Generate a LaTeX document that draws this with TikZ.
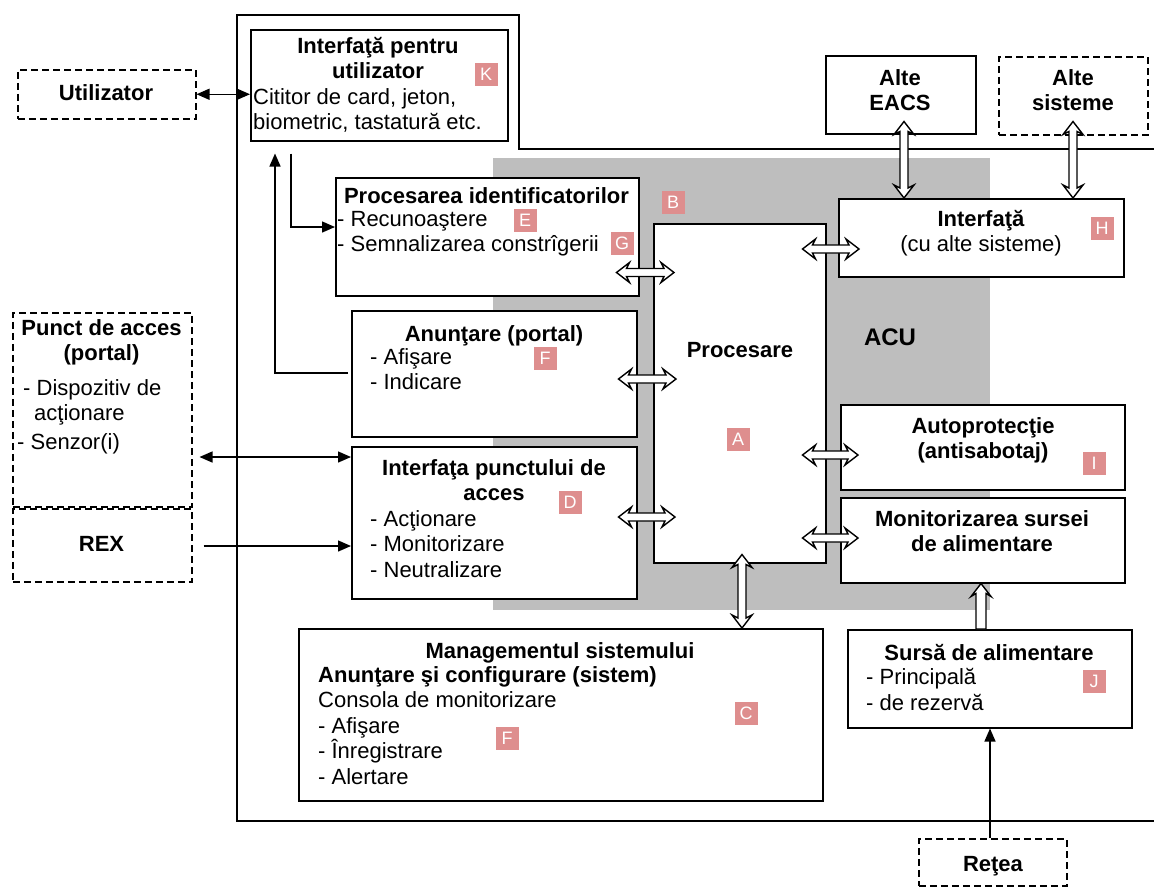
\documentclass[tikz,border=0pt]{standalone}
\usepackage{fontspec}
\setmainfont{Liberation Sans}
\usetikzlibrary{calc,arrows.meta}
\definecolor{acugrey}{RGB}{190,190,190}
\definecolor{badgepink}{RGB}{222,142,142}
\tikzset{
  box/.style={draw, line width=1.5pt, fill=white, rectangle, inner sep=0pt, anchor=north west},
  dbox/.style={box, dash pattern=on 7pt off 4pt},
  sz/.style 2 args={minimum width=#1pt, minimum height=#2pt},
  tr/.style={font=\fontsize{22}{25.6}\selectfont, inner sep=0pt, execute at begin node=\strut},
  tb/.style={font=\fontsize{22}{25.6}\selectfont\bfseries, inner sep=0pt, execute at begin node=\strut},
  ctext/.style={anchor=north, align=center},
  ltext/.style={anchor=north west, align=left},
  badge/.style={fill=badgepink, text=white, font=\fontsize{18}{18}\selectfont, minimum width=23pt, minimum height=23pt, inner sep=0pt},
  conn/.style={draw, line width=1.4pt},
  ctip/.tip={Triangle[length=13pt,width=11pt]},
  hollow/.style={draw, fill=white, line width=1.4pt, line join=miter},
  hdouble/.style={hollow, to path={let \p1=(\tikztostart), \p2=(\tikztotarget) in
    (\x1,\y1) -- ({\x1+13pt},{\y1+10pt}) -- ({\x1+10pt},{\y1+4pt}) -- ({\x2-10pt},{\y1+4pt}) -- ({\x2-13pt},{\y1+10pt}) -- (\x2,\y1) -- ({\x2-13pt},{\y1-10pt}) -- ({\x2-10pt},{\y1-4pt}) -- ({\x1+10pt},{\y1-4pt}) -- ({\x1+13pt},{\y1-10pt}) -- cycle}},
  vdouble/.style={hollow, to path={let \p1=(\tikztostart), \p2=(\tikztotarget) in
    (\x1,\y1) -- ({\x1+10pt},{\y1-13pt}) -- ({\x1+4pt},{\y1-10pt}) -- ({\x1+4pt},{\y2+10pt}) -- ({\x1+10pt},{\y2+13pt}) -- (\x1,\y2) -- ({\x1-10pt},{\y2+13pt}) -- ({\x1-4pt},{\y2+10pt}) -- ({\x1-4pt},{\y1-10pt}) -- ({\x1-10pt},{\y1-13pt}) -- cycle}},
  vsingle/.style={hollow, to path={let \p1=(\tikztostart), \p2=(\tikztotarget) in
    ({\x1-5pt},\y1) -- ({\x1-5pt},{\y2-10pt}) -- ({\x1-10pt},{\y2-13pt}) -- (\x1,\y2) -- ({\x1+10pt},{\y2-13pt}) -- ({\x1+5pt},{\y2-10pt}) -- ({\x1+5pt},\y1) -- cycle}},
}
\begin{document}
\begin{tikzpicture}[x=1pt,y=-1pt]
\useasboundingbox (0,0) rectangle (1154,887);
% outer frame
\draw[line width=1.5pt] (1154,149) -- (519,149) -- (519,15) -- (237,15) -- (237,821) -- (1154,821);
% ACU grey area
\node[fill=acugrey, inner sep=0pt, anchor=north west, sz={497}{452}] (acu) at (493,158) {};
% boxes
\node[dbox, sz={178}{49}] (util) at (17,69) {};
\node[box, sz={257}{111}] (K) at (250,29) {};
\node[box, sz={150}{78}] (EACS) at (825,55) {};
\node[dbox, sz={149}{78}] (altesis) at (998,56) {};
\node[box, sz={285}{78}] (H) at (838,198) {};
\node[box, sz={303}{118}] (E) at (335,177) {};
\node[box, sz={285}{126}] (F) at (351,310) {};
\node[box, sz={285}{152}] (D) at (351,446) {};
\node[box, sz={172}{339}] (A) at (653,223) {};
\node[box, sz={284}{85}] (I) at (840,404) {};
\node[box, sz={284}{85}] (M) at (840,497) {};
\node[box, sz={524}{172}] (C) at (298,628) {};
\node[box, sz={284}{98}] (J) at (847,629) {};
\node[dbox, sz={179}{194}] (punct) at (12,312) {};
\node[dbox, sz={179}{73}] (rex) at (12,508) {};
\node[dbox, sz={148}{47}] (retea) at (918,838) {};
% texts
\node[tb, ctext] (tutil) at (106,82) {Utilizator};
\node[tb, ctext] (tK1) at (378,37) {Interfaţă pentru\\utilizator};
\node[tr, ltext] (tK2) at (253,88) {Cititor de card, jeton,\\biometric, tastatură etc.};
\node[tb, ctext] (tEACS) at (900,69) {Alte\\EACS};
\node[tb, ctext] (talte) at (1073,69) {Alte\\sisteme};
\node[tr, ctext] (tH) at (981,210) {\textbf{Interfaţă}\\(cu alte sisteme)};
\node[tb, ctext] (tE1) at (486.5,185) {Procesarea identificatorilor};
\node[tr, ltext] (tE2) at (337,211) {- Recunoaştere\\- Semnalizarea constrîgerii};
\node[tb, ctext] (tF1) at (494,323) {Anunţare (portal)};
\node[tr, ltext] (tF2) at (370,348) {- Afişare\\- Indicare};
\node[tb, ctext] (tD1) at (494,459) {Interfaţa punctului de\\acces};
\node[tr, ltext] (tD2) at (370,510) {- Acţionare\\- Monitorizare\\- Neutralizare};
\node[tb, ctext] (tP1) at (101.5,319) {Punct de acces\\(portal)};
\node[tr, ltext] (tP2) at (23,379) {- Dispozitiv de\\\hspace*{11pt}acţionare};
\node[tr, ltext] (tP3) at (17,431) {- Senzor(i)};
\node[tb, ctext] (tREX) at (101.5,533) {REX};
\node[tb, ctext] (tproc) at (740,339) {Procesare};
\node[font=\fontsize{24}{27.6}\selectfont\bfseries, inner sep=0pt, execute at begin node=\strut, ctext] (tacu) at (890,326) {ACU};
\node[tb, ctext] (tI) at (983,417) {Autoprotecţie\\(antisabotaj)};
\node[tb, ctext] (tM) at (982,510) {Monitorizarea sursei\\de alimentare};
\node[tb, ctext] (tC1) at (560,640) {Managementul sistemului};
\node[tr, ltext] (tC2) at (318,666) {\textbf{Anunţare şi configurare (sistem)}\\Consola de monitorizare\\- Afişare\\- Înregistrare\\- Alertare};
\node[tb, ctext] (tJ1) at (989,642) {Sursă de alimentare};
\node[tr, ltext] (tJ2) at (866,668) {- Principală\\- de rezervă};
\node[tb, ctext] (tR) at (993,853) {Reţea};
% badges
\node[badge] (bK) at (486,74) {K};
\node[badge] (bE) at (525,220) {E};
\node[badge] (bG) at (622,243) {G};
\node[badge] (bB) at (673,202) {B};
\node[badge] (bF) at (545,358) {F};
\node[badge] (bD) at (570,502) {D};
\node[badge] (bA) at (738,439) {A};
\node[badge] (bH) at (1102,228) {H};
\node[badge] (bI) at (1094,463) {I};
\node[badge] (bC) at (746,713) {C};
\node[badge] (bF2) at (507,738) {F};
\node[badge] (bJ) at (1094,681) {J};
% thin connectors
\draw[conn, ctip-ctip] (util.east) -- (K.west |- util.east);
\coordinate (kout) at ($(K.south west)+(41,12)$);
\draw[conn, -ctip] (kout) |- ($(E.north west)+(0,50)$);
\coordinate (fout) at ($(F.north west)+(-3,63)$);
\coordinate (kin) at ($(K.south west)+(25,12)$);
\draw[conn, -ctip] (fout) -| (kin);
\draw[conn, ctip-ctip, shorten <=7pt] ($(punct.north east)+(0,145)$) -- ($(D.north west)+(0,11)$);
\draw[conn, -ctip, shorten <=11pt] ($(rex.north east)+(0,38)$) -- ($(D.north west)+(0,100)$);
\draw[conn, -ctip] ($(retea.north west)+(72,0)$) -- ($(J.south west)+(143,0)$);
% hollow arrows
\draw[hdouble] ($(E.south east)+(-23,-24)$) to ($(A.north west)+(21,48)$);
\draw[hdouble] ($(F.north east)+(-19,69)$) to ($(A.north west)+(23,156)$);
\draw[hdouble] ($(D.north east)+(-19,71)$) to ($(A.north west)+(22,294)$);
\draw[hdouble] ($(A.north east)+(-24,26)$) to ($(H.south west)+(21,-27)$);
\draw[hdouble] ($(A.north east)+(-24,232)$) to ($(I.north west)+(18,51)$);
\draw[hdouble] ($(A.north east)+(-24,315)$) to ($(M.north west)+(18,41)$);
\draw[vdouble] ($(A.south west)+(89,-9)$) to ($(C.north west)+(444,0)$);
\draw[vdouble] ($(EACS.south west)+(79,-13)$) to ($(H.north west)+(66,0)$);
\draw[vdouble] ($(altesis.south west)+(75,-14)$) to ($(H.north west)+(235,0)$);
\draw[vsingle] ($(J.north west)+(134,0)$) to ($(M.south west)+(141,0)$);
\end{tikzpicture}
\end{document}
